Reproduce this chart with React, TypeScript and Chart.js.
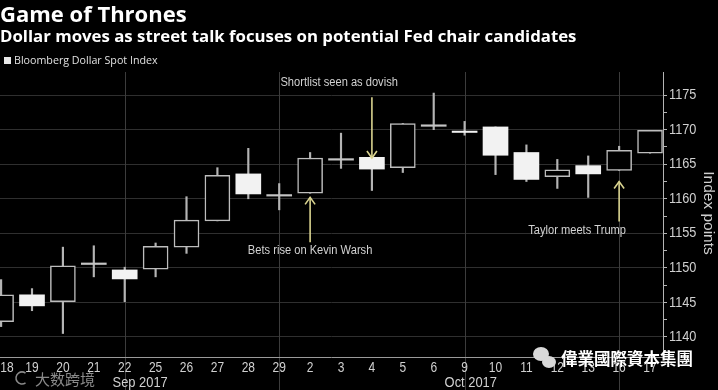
import React, { useEffect, useRef } from "react";
import { Chart, registerables } from "chart.js";

Chart.register(...registerables);

// ---- data ----
const dayLabels = ["18", "19", "20", "21", "22", "25", "26", "27", "28", "29", "2", "3", "4", "5", "6", "9", "10", "11", "12", "13", "16", "17"];
const opens = [1142.2, 1146.1, 1145.1, 1150.6, 1149.7, 1149.8, 1153.0, 1156.8, 1163.6, 1160.5, 1160.8, 1165.7, 1166.0, 1164.5, 1170.6, 1169.8, 1170.4, 1166.7, 1163.2, 1164.8, 1164.1, 1166.6];
const highs = [1148.3, 1147.0, 1153.0, 1153.2, 1150.1, 1153.6, 1160.3, 1164.5, 1167.3, 1162.2, 1166.7, 1169.5, 1166.1, 1170.9, 1175.3, 1171.2, 1170.4, 1167.8, 1165.7, 1166.2, 1167.6, 1169.9];
const lows = [1141.5, 1143.8, 1140.5, 1148.7, 1145.1, 1148.7, 1152.1, 1156.8, 1160.0, 1158.4, 1160.8, 1164.4, 1161.2, 1163.8, 1170.0, 1169.2, 1163.5, 1162.5, 1161.5, 1160.2, 1164.1, 1166.6];
const closes = [1146.1, 1144.5, 1150.3, 1150.6, 1148.4, 1153.1, 1156.9, 1163.4, 1160.7, 1160.5, 1165.9, 1165.7, 1164.3, 1170.9, 1170.6, 1169.6, 1166.3, 1162.8, 1164.2, 1163.6, 1167.0, 1169.9];

const weekLineIdx = [4, 9, 15, 20];
const monthLabels = ["Sep 2017", "Oct 2017"];
const monthPos = [4.5, 15.2];

const annoTexts = ["Shortlist seen as dovish", "Bets rise on Kevin Warsh", "Taylor meets Trump"];
const annoIdx = [12, 10, 20];
const annoFrom = [1174.7, 1153.7, 1156.7];
const annoTo = [1165.9, 1160.2, 1162.5];
const annoTextIdx = [10.94, 10.0, 18.64];
const annoTextVal = [1176.8, 1152.5, 1155.4];

const titleText = "Game of Thrones";
const subtitleText = "Dollar moves as street talk focuses on potential Fed chair candidates";
const legendText = "Bloomberg Dollar Spot Index";
const yAxisTitle = "Index points";

const NARROW = '"Liberation Sans", Arial, sans-serif';
const SANS = '"Open Sans", "Noto Sans", sans-serif';
const CJK = '"Noto Sans CJK TC", "Noto Sans CJK SC", sans-serif';

const isDoji = (i: number) => Math.abs(opens[i] - closes[i]) < 0.15;
const onStep = (v: number) => Math.abs(v / 2.5 - Math.round(v / 2.5)) < 1e-6;
const onFive = (v: number) => Math.abs(v / 5 - Math.round(v / 5)) < 1e-6;

// draw horizontally condensed text
const narrowText = (
  ctx: CanvasRenderingContext2D,
  text: string,
  x: number,
  y: number,
  sx: number,
  align: CanvasTextAlign,
  baseline: CanvasTextBaseline
) => {
  ctx.save();
  ctx.translate(x, y);
  ctx.scale(sx, 1);
  ctx.textAlign = align;
  ctx.textBaseline = baseline;
  ctx.fillText(text, 0, 0);
  ctx.restore();
};

const drawArrow = (ctx: CanvasRenderingContext2D, x: number, y1: number, y2: number) => {
  ctx.save();
  ctx.strokeStyle = "#d9d38f";
  ctx.lineWidth = 1.6;
  ctx.beginPath();
  ctx.moveTo(x, y1);
  ctx.lineTo(x, y2);
  ctx.stroke();
  const dir = y2 > y1 ? 1 : -1;
  ctx.beginPath();
  ctx.moveTo(x - 5, y2 - dir * 7);
  ctx.lineTo(x, y2);
  ctx.lineTo(x + 5, y2 - dir * 7);
  ctx.stroke();
  ctx.restore();
};

const overlayPlugin = {
  id: "overlay",
  beforeDraw(chart: any) {
    const ctx = chart.ctx;
    ctx.save();
    ctx.fillStyle = "#000";
    ctx.fillRect(0, 0, chart.width, chart.height);
    ctx.restore();
  },
  beforeDatasetsDraw(chart: any) {
    const ctx = chart.ctx;
    const xs = chart.scales.x;
    const area = chart.chartArea;
    ctx.save();
    ctx.strokeStyle = "#3c3c3c";
    ctx.lineWidth = 1;
    weekLineIdx.forEach((i) => {
      const x = Math.round(xs.getPixelForValue(i)) + 0.5;
      ctx.beginPath();
      ctx.moveTo(x, area.top);
      ctx.lineTo(x, chart.height);
      ctx.stroke();
    });
    ctx.restore();
  },
  afterDatasetsDraw(chart: any) {
    const ctx = chart.ctx;
    const xs = chart.scales.x;
    const ys = chart.scales.y;
    const area = chart.chartArea;

    ctx.save();
    // bottom axis line
    ctx.strokeStyle = "#9a9a9a";
    ctx.lineWidth = 1;
    ctx.beginPath();
    ctx.moveTo(0, area.bottom + 0.5);
    ctx.lineTo(area.right, area.bottom + 0.5);
    ctx.stroke();

    // y tick labels
    ctx.fillStyle = "#d0d0d0";
    ctx.font = `15px ${NARROW}`;
    ys.ticks.forEach((t: any) => {
      if (!onFive(t.value)) return;
      narrowText(ctx, String(t.value), area.right + 6, ys.getPixelForValue(t.value), 0.85, "left", "middle");
    });

    // x labels
    ctx.font = `15px ${NARROW}`;
    dayLabels.forEach((lab, i) => {
      const x = Math.max(xs.getPixelForValue(i), 7);
      narrowText(ctx, lab, x, 372, 0.8, "center", "alphabetic");
    });
    monthLabels.forEach((lab, i) => {
      narrowText(ctx, lab, xs.getPixelForValue(monthPos[i]), 387, 0.86, "center", "alphabetic");
    });

    // annotations
    annoTexts.forEach((t, i) => {
      const x = xs.getPixelForValue(annoIdx[i]);
      drawArrow(ctx, x, ys.getPixelForValue(annoFrom[i]), ys.getPixelForValue(annoTo[i]));
      ctx.fillStyle = "#d2d2d2";
      ctx.font = `12.5px ${NARROW}`;
      narrowText(ctx, t, xs.getPixelForValue(annoTextIdx[i]), ys.getPixelForValue(annoTextVal[i]), 0.89, "center", "middle");
    });

    // titles
    ctx.textAlign = "left";
    ctx.textBaseline = "alphabetic";
    ctx.fillStyle = "#ffffff";
    ctx.font = `bold 22px ${SANS}`;
    ctx.fillText(titleText, 0, 22);
    ctx.font = `bold 16.8px ${SANS}`;
    ctx.fillText(subtitleText, 0, 42);

    // legend
    ctx.fillStyle = "#e8e8e8";
    ctx.fillRect(4, 57, 7, 7);
    ctx.font = `10.7px ${SANS}`;
    ctx.fillStyle = "#e0e0e0";
    ctx.fillText(legendText, 14, 64);

    // y axis title
    ctx.save();
    ctx.translate(708, 213);
    ctx.rotate(Math.PI / 2);
    ctx.fillStyle = "#cfcfcf";
    ctx.font = `15.5px ${NARROW}`;
    ctx.textAlign = "center";
    ctx.textBaseline = "middle";
    ctx.fillText(yAxisTitle, 0, 0);
    ctx.restore();

    // watermarks
    ctx.fillStyle = "#8a8a8a";
    ctx.font = `15px ${CJK}`;
    ctx.textAlign = "left";
    ctx.textBaseline = "middle";
    ctx.fillText("大数跨境", 35, 379);
    ctx.strokeStyle = "#8a8a8a";
    ctx.lineWidth = 1.5;
    ctx.beginPath();
    ctx.arc(22, 378, 6, Math.PI * 0.3, Math.PI * 1.7);
    ctx.stroke();

    ctx.fillStyle = "#d8d8d8";
    ctx.beginPath();
    ctx.ellipse(541, 354, 8, 7, 0, 0, Math.PI * 2);
    ctx.fill();
    ctx.beginPath();
    ctx.ellipse(549, 362, 7, 6, 0, 0, Math.PI * 2);
    ctx.fill();
    ctx.fillStyle = "#ffffff";
    ctx.font = `bold 16.5px ${CJK}`;
    ctx.fillText("偉業國際資本集團", 561, 359);
    ctx.restore();
  },
};

export default function App() {
  const ref = useRef<HTMLCanvasElement | null>(null);

  useEffect(() => {
    if (!ref.current) return;
    const bodies = dayLabels.map((_, i) => ({
      x: i,
      y: isDoji(i) ? [opens[i] - 0.11, opens[i] + 0.11] : [opens[i], closes[i]],
    }));
    const wicks = dayLabels.map((_, i) => ({ x: i, y: [lows[i], highs[i]] }));

    const chart = new Chart(ref.current, {
      type: "bar",
      data: {
        datasets: [
          {
            label: "body",
            data: bodies as any,
            barThickness: 25,
            grouped: false,
            borderSkipped: false,
            backgroundColor: (c: any) => {
              const i = c.dataIndex;
              if (isDoji(i)) return "#c4c4c4";
              return closes[i] > opens[i] ? "#000000" : "#f2f2f2";
            },
            borderColor: (c: any) => {
              const i = c.dataIndex;
              if (isDoji(i)) return "rgba(0,0,0,0)";
              return closes[i] > opens[i] ? "#bdbdbd" : "rgba(0,0,0,0)";
            },
            borderWidth: (c: any) => {
              const i = c.dataIndex;
              if (isDoji(i)) return 0;
              return closes[i] > opens[i] ? 1.5 : 0;
            },
          } as any,
          {
            label: "wick",
            data: wicks as any,
            barThickness: 1.5,
            grouped: false,
            borderSkipped: false,
            backgroundColor: "#b4b4b4",
            borderWidth: 0,
          } as any,
        ],
      },
      options: {
        responsive: false,
        animation: false,
        events: [],
        layout: { padding: { top: 72, bottom: 33, left: 0, right: 0 } },
        plugins: { legend: { display: false }, tooltip: { enabled: false }, title: { display: false } },
        scales: {
          x: {
            type: "linear",
            offset: false,
            min: -0.0356,
            max: 21.42,
            display: false,
          },
          y: {
            type: "linear",
            position: "right",
            min: 1137.1,
            max: 1178.35,
            afterFit: (s: any) => {
              s.width = 55;
            },
            border: { display: true, color: "#b4b4b4", width: 1 },
            grid: {
              color: (c: any) => (c.tick && onFive(c.tick.value) ? "#2f2f2f" : "rgba(0,0,0,0)"),
              tickColor: (c: any) => (c.tick && onStep(c.tick.value) ? "#b4b4b4" : "rgba(0,0,0,0)"),
              tickLength: 4,
              lineWidth: 1,
            },
            ticks: {
              stepSize: 2.5,
              autoSkip: false,
              padding: 2,
              color: "rgba(0,0,0,0)",
              font: { family: NARROW, size: 15 },
              callback: (v: any) => (onFive(Number(v)) ? String(v) : ""),
            },
          },
        },
      },
      plugins: [overlayPlugin],
    });
    return () => chart.destroy();
  }, []);

  return (
    <div style={{ position: "absolute", left: 0, top: 0, width: 718, height: 390, background: "#000" }}>
      <canvas ref={ref} width={718} height={390} style={{ display: "block", width: 718, height: 390 }} />
    </div>
  );
}
